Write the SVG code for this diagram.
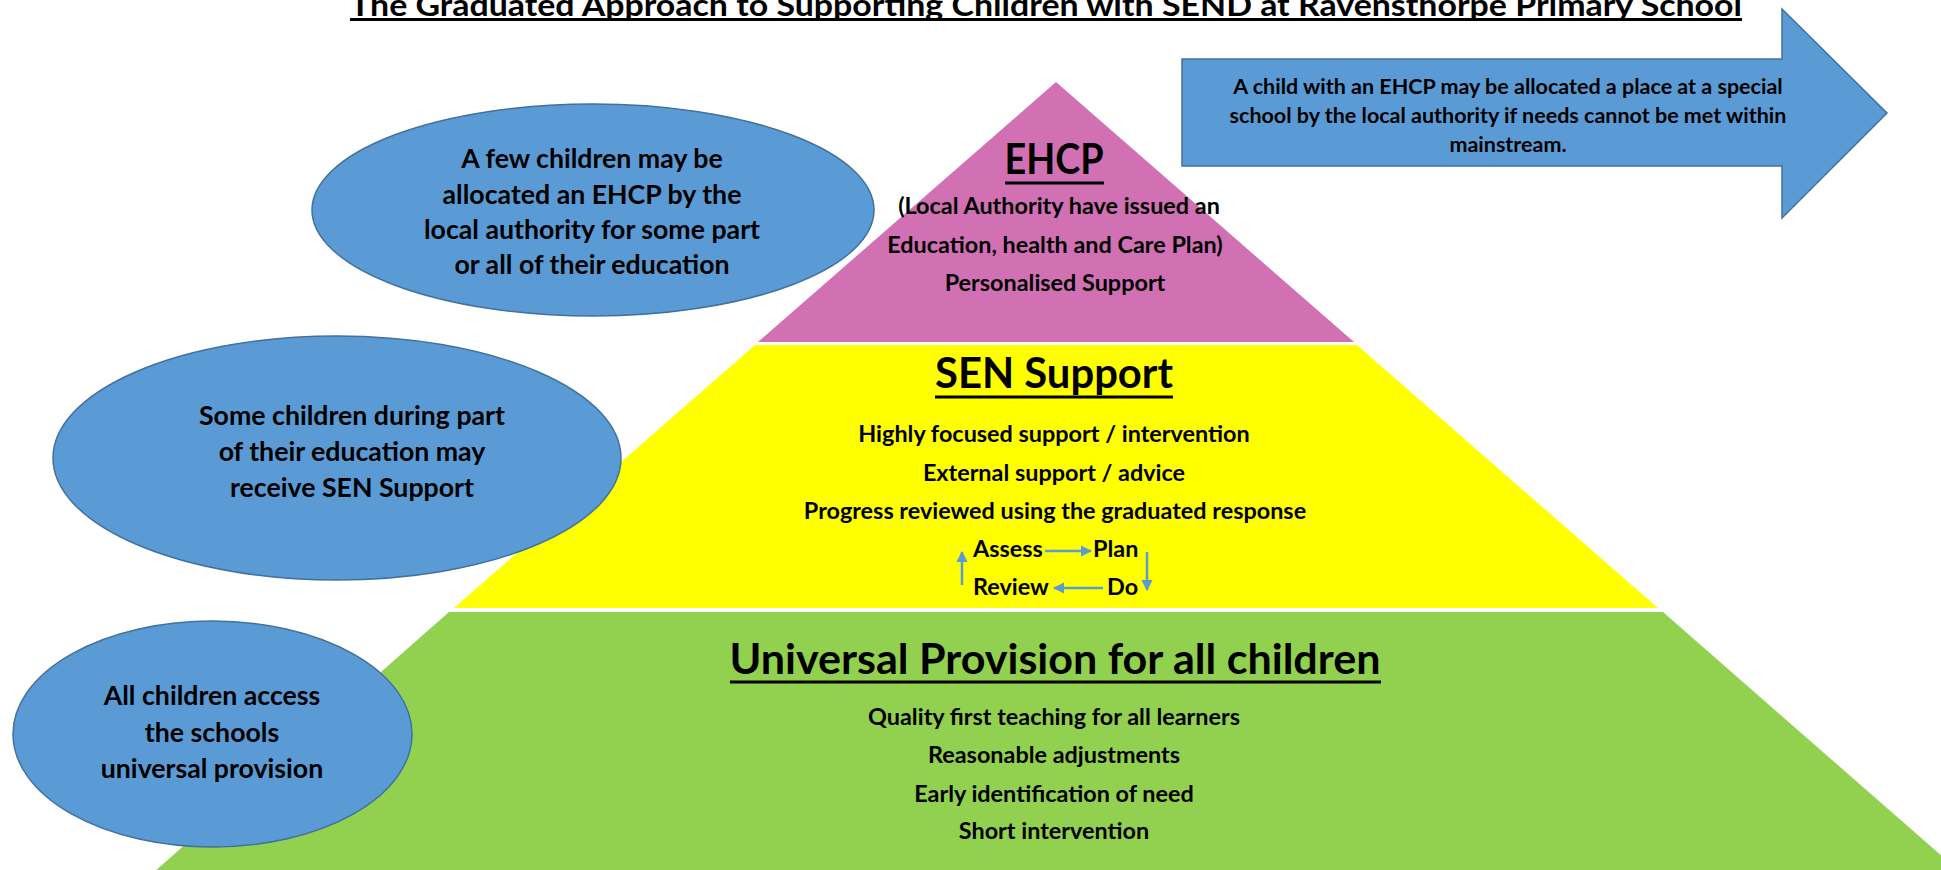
<svg xmlns="http://www.w3.org/2000/svg" width="1941" height="870" viewBox="0 0 1941 870">
<defs>
<style>
text{font-family:Lato,"Open Sans","Liberation Sans",sans-serif;font-weight:bold;fill:#000;text-anchor:middle}
.oval{fill:#5b9bd5;stroke:#41719c;stroke-width:1.5}
.t28{font-size:26.7px}
.t25{font-size:23.4px}
.t23{font-size:21.5px}
.h45{font-size:42px}
.ul{stroke:#000;stroke-width:3}
.cyc{stroke:#5b9bd5;stroke-width:2.5;fill:none;marker-end:url(#ah)}
</style>
<marker id="ah" viewBox="0 0 10 10" refX="9" refY="5" markerWidth="4.5" markerHeight="4.5" orient="auto" markerUnits="strokeWidth">
<path d="M0,0 L10,5 L0,10 Z" fill="#5b9bd5"/>
</marker>
</defs>
<rect width="1941" height="870" fill="#fff"/>

<g id="title">
<text x="350" y="16" style="font-size:31px;text-anchor:start" textLength="1392" lengthAdjust="spacingAndGlyphs">The Graduated Approach to Supporting Children with SEND at Ravensthorpe Primary School</text>
<line class="ul" x1="350" y1="19.5" x2="1742" y2="19.5"/>
</g>

<g id="tier-universal">
<polygon points="449,612 1663,612 1960,872 154,872" fill="#92d050"/>
<text class="h45" x="1055" y="674" textLength="651" lengthAdjust="spacingAndGlyphs">Universal Provision for all children</text>
<line class="ul" x1="730" y1="682" x2="1381" y2="682"/>
<text class="t25" x="1054" y="725">Quality first teaching for all learners</text>
<text class="t25" x="1054" y="763">Reasonable adjustments</text>
<text class="t25" x="1054" y="802">Early identification of need</text>
<text class="t25" x="1054" y="839">Short intervention</text>
</g>

<g id="tier-sen">
<polygon points="755,345 1357,345 1658,608 454,608" fill="#ffff00"/>
<text class="h45" x="1054" y="388" textLength="238" lengthAdjust="spacingAndGlyphs">SEN Support</text>
<line class="ul" x1="935" y1="397" x2="1173" y2="397"/>
<text class="t25" x="1054" y="442">Highly focused support / intervention</text>
<text class="t25" x="1054" y="481">External support / advice</text>
<text class="t25" x="1055" y="519">Progress reviewed using the graduated response</text>
<text class="t25" x="973" y="557" style="text-anchor:start">Assess</text>
<text class="t25" x="1093" y="557" style="text-anchor:start">Plan</text>
<text class="t25" x="973" y="595" style="text-anchor:start">Review</text>
<text class="t25" x="1107" y="595" style="text-anchor:start">Do</text>
</g>

<g id="tier-ehcp">
<polygon points="1056,82 1354,342 758,342" fill="#d171b4"/>
<text class="h45" x="1054" y="174" textLength="99" lengthAdjust="spacingAndGlyphs">EHCP</text>
<line class="ul" x1="1005" y1="183" x2="1104" y2="183"/>
<text class="t25" x="1059" y="214">(Local Authority have issued an</text>
<text class="t25" x="1055" y="253">Education, health and Care Plan)</text>
<text class="t25" x="1055" y="291">Personalised Support</text>
</g>

<g id="note-ehcp">
<ellipse class="oval" cx="593" cy="210" rx="281" ry="106"/>
<text class="t28" x="592" y="168">A few children may be</text>
<text class="t28" x="592" y="204">allocated an EHCP by the</text>
<text class="t28" x="592" y="239">local authority for some part</text>
<text class="t28" x="592" y="274">or all of their education</text>
</g>

<g id="note-sen">
<ellipse class="oval" cx="337" cy="458" rx="284" ry="122"/>
<text class="t28" x="352" y="425">Some children during part</text>
<text class="t28" x="352" y="461">of their education may</text>
<text class="t28" x="352" y="497">receive SEN Support</text>
</g>

<g id="note-universal">
<ellipse class="oval" cx="212.5" cy="734" rx="199.5" ry="113"/>
<text class="t28" x="212" y="705">All children access</text>
<text class="t28" x="212" y="742">the schools</text>
<text class="t28" x="212" y="778">universal provision</text>
</g>

<g id="special-school-arrow">
<polygon class="oval" points="1182,59 1782,59 1782,9 1887,113 1782,218 1782,166 1182,166"/>
<text class="t23" x="1508" y="94">A child with an EHCP may be allocated a place at a special</text>
<text class="t23" x="1508" y="123">school by the local authority if needs cannot be met within</text>
<text class="t23" x="1508" y="152">mainstream.</text>
</g>

<g id="connectors">
<line class="cyc" x1="1045" y1="551" x2="1091" y2="551"/>
<line class="cyc" x1="1147" y1="552" x2="1147" y2="590"/>
<line class="cyc" x1="1103" y1="588" x2="1054" y2="588"/>
<line class="cyc" x1="962" y1="585" x2="962" y2="552"/>
</g>
</svg>
